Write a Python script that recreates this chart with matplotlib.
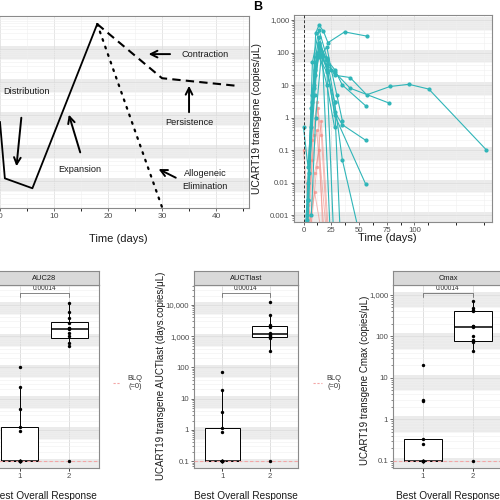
import numpy as np
import matplotlib
matplotlib.use("Agg")
import matplotlib.pyplot as plt
from matplotlib.lines import Line2D
from matplotlib.ticker import FixedLocator, FuncFormatter, LogLocator, NullFormatter, NullLocator

plt.rcParams["font.family"] = ["Liberation Sans", "DejaVu Sans"]

# ---------------------------------------------------------------------------
# Data
# ---------------------------------------------------------------------------

# Panel A: schematic cellular kinetics (arbitrary log units)
a_solid_t = [0, 0.9, 6, 18]
a_solid_v = [61, 1.2, 0.6, 57000]
a_dash_t = [18, 30, 44]
a_dash_v = [57000, 1300, 760]
a_dot_t = [18, 30]
a_dot_v = [57000, 0.16]

a_labels = ["Distribution", "Expansion", "Contraction", "Persistence", "Allogeneic\nElimination"]
a_text_xy = [(5.0, 500), (14.8, 2.3), (38, 6600), (35, 61), (38, 1.07)]
a_arrow_from = [(4.0, 100), (15, 6.1), (32, 7000), (35, 100), (33, 1.15)]
a_arrow_to = [(3.0, 2.3), (12.6, 123), (27, 7000), (35, 930), (28.9, 2.5)]

# Panel B: UCART19 transgene per patient, responders (R) and non-responders (NR)
resp_days = [
    [4, 8, 11, 14, 18, 22, 37, 57],
    [3, 8, 14, 21, 28, 42, 57, 78, 95, 113, 165],
    [2, 7, 14, 21, 28, 42, 77],
    [3, 9, 14, 21, 28, 35, 56],
    [4, 10, 15, 21, 28, 35, 56],
    [4, 10, 14, 21, 28, 56],
    [3, 9, 13, 21, 28, 35, 50],
    [5, 10, 14, 21, 27],
    [3, 7, 12, 17, 24],
    [4, 8, 14, 21, 28, 33],
    [0, 4, 10, 14, 21, 28],
    [7, 11, 16, 21, 25, 30, 35],
]
resp_vals = [
    [0.0005, 3, 400, 700, 450, 200, 430, 320],
    [0.0005, 5, 150, 60, 20, 17, 5, 9, 10.5, 7.5, 0.1],
    [0.0005, 2, 90, 40, 25, 8, 2.8],
    [0.001, 8, 200, 60, 30, 10, 2.3],
    [0.003, 20, 120, 30, 1.5, 0.6, 0.2],
    [0.01, 50, 300, 40, 1.2, 0.009],
    [0.0007, 10, 80, 25, 3, 0.05, 0.0003],
    [0.02, 5, 200, 30, 0.0003],
    [0.0005, 0.5, 100, 80, 0.0003],
    [0.003, 50, 500, 70, 3, 0.0003],
    [0.5, 0.03, 30, 100, 10, 0.5],
    [0.001, 1, 80, 150, 30, 5, 0.8],
]
nonresp_days = [
    [4, 8, 12, 16, 21],
    [5, 9, 13, 17],
    [3, 8, 12, 18],
    [6, 10, 14, 20],
    [0, 4, 8],
    [7, 12, 16, 22],
    [5, 10, 15],
]
nonresp_vals = [
    [0.0005, 0.2, 3, 0.3, 0.0005],
    [0.0005, 0.3, 2, 0.0005],
    [0.0005, 0.05, 0.4, 0.0005],
    [0.0005, 0.02, 0.1, 0.0005],
    [0.1, 0.002, 0.0005],
    [0.0005, 0.03, 0.8, 0.0005],
    [0.0005, 0.005, 0.0005],
]

# Bottom row: exposure metrics by best overall response (BLQ plotted at 0.1)
groups = ["NR\n(n=13)", "R\n(n=12)"]
auc28_nr = [0.1] * 8 + [0.93, 1.25, 4.7, 24, 100]
auc28_r = [0.1, 470, 590, 1000, 1250, 1700, 1800, 1900, 2600, 3800, 5900, 12000]
auctlast_nr = [0.1] * 8 + [0.86, 1.16, 3.8, 19.5, 69]
auctlast_r = [0.1, 330, 850, 950, 1000, 1100, 1200, 1300, 2000, 2300, 4700, 12500]
cmax_nr = [0.1] * 8 + [0.26, 0.33, 2.8, 2.9, 20]
cmax_r = [0.1, 45, 75, 80, 100, 165, 175, 180, 400, 430, 480, 700]
p_value = "0.00014"

TEAL = "#2FB5B8"
SALMON = "#F08C84"
BAND = "#EBEBEB"
GRAY_TXT = "#4D4D4D"

# ---------------------------------------------------------------------------
# Helpers
# ---------------------------------------------------------------------------

fig = plt.figure(figsize=(5, 5), dpi=100)


def add_px_axes(left, top, right, bottom):
    return fig.add_axes([left / 500, 1 - bottom / 500, (right - left) / 500, (bottom - top) / 500])


def log_fmt(v, _):
    return f"{v:,.0f}" if v >= 1 else f"{v:g}"


def style_log_panel(ax, kmin, kmax):
    ax.set_yscale("log")
    for k in range(kmin, kmax + 1):
        ax.axhspan(10 ** (k - 0.3), 10 ** (k + 0.08), color=BAND, lw=0, zorder=0)
    ax.yaxis.set_major_locator(LogLocator(base=10, numticks=20))
    ax.yaxis.set_minor_locator(LogLocator(base=10, subs=np.arange(2, 10), numticks=20))
    ax.yaxis.set_major_formatter(FuncFormatter(log_fmt))
    ax.yaxis.set_minor_formatter(NullFormatter())
    ax.grid(True, which="major", color="#DCDCDC", lw=0.5)
    ax.grid(True, which="minor", color="#F0F0F0", lw=0.4)
    ax.set_axisbelow(True)
    for s in ax.spines.values():
        s.set_color("#8A8A8A")
        s.set_linewidth(0.8)
    ax.tick_params(axis="both", which="major", labelsize=5.6, labelcolor=GRAY_TXT,
                   color="#333333", length=2.5, width=0.5, pad=1)
    ax.tick_params(axis="y", which="minor", color="#333333", length=1.5, width=0.4)


def log_box_stats(vals):
    lv = np.log10(vals)
    q1, med, q3 = np.percentile(lv, [25, 50, 75])
    iqr = q3 - q1
    lo = lv[lv >= q1 - 1.5 * iqr].min()
    hi = lv[lv <= q3 + 1.5 * iqr].max()
    return dict(med=10 ** med, q1=10 ** q1, q3=10 ** q3,
                whislo=10 ** lo, whishi=10 ** hi, fliers=[])


def response_panel(left, right, nr_vals, r_vals, title, ylim):
    ax = add_px_axes(left, 285, right, 468)
    style_log_panel(ax, -1, 4)
    ax.set_xlim(0.4, 2.6)
    ax.set_ylim(*ylim)
    ax.xaxis.set_major_locator(FixedLocator([1, 2]))
    ax.xaxis.set_minor_locator(NullLocator())
    ax.set_xticklabels(groups, linespacing=1.1)
    ax.axhline(0.1, color="#F4A6A6", ls=(0, (3, 2)), lw=0.8, zorder=3)
    ax.bxp([log_box_stats(nr_vals), log_box_stats(r_vals)], positions=[1, 2], widths=0.75,
           showfliers=False, showcaps=False, patch_artist=True,
           boxprops=dict(facecolor="white", edgecolor="black", lw=0.7),
           medianprops=dict(color="black", lw=1.1),
           whiskerprops=dict(color="black", lw=0.7))
    ax.scatter([1] * len(nr_vals), nr_vals, s=6, color="black", zorder=4, lw=0)
    ax.scatter([2] * len(r_vals), r_vals, s=6, color="black", zorder=4, lw=0)
    tr = ax.get_xaxis_transform()
    ax.plot([1, 1, 2, 2], [0.934, 0.956, 0.956, 0.934], transform=tr, color="#555555", lw=0.5)
    ax.text(1.5, 0.963, p_value, transform=tr, ha="center", va="bottom", fontsize=4.8, color="#333333")
    # facet strip
    strip = add_px_axes(left, 271, right, 285)
    strip.set_facecolor("#D9D9D9")
    strip.set_xticks([])
    strip.set_yticks([])
    for s in strip.spines.values():
        s.set_color("#8A8A8A")
        s.set_linewidth(0.8)
    strip.text(0.5, 0.5, title, ha="center", va="center", fontsize=5.4, color="#1A1A1A",
               transform=strip.transAxes)
    fig.text((left + right) / 2 / 500, 1 - 496 / 500, "Best Overall Response",
             ha="center", va="center", fontsize=7.3, color="#1A1A1A")
    return ax


# ---------------------------------------------------------------------------
# Panel A
# ---------------------------------------------------------------------------

axA = add_px_axes(-12, 16, 249, 208)
style_log_panel(axA, 0, 4)
axA.set_xlim(-2.22, 46.1)
axA.set_ylim(10 ** -0.82, 10 ** 5.0)
axA.xaxis.set_major_locator(FixedLocator([0, 10, 20, 30, 40]))
axA.xaxis.set_minor_locator(FixedLocator([5, 15, 25, 35, 45]))
axA.grid(True, axis="x", which="minor", color="#F0F0F0", lw=0.4)
axA.tick_params(axis="x", labelsize=6)
axA.tick_params(axis="y", which="both", labelleft=False, left=False)
axA.plot(a_solid_t, a_solid_v, color="black", lw=1.3)
axA.plot(a_dash_t, a_dash_v, color="black", lw=1.5, ls=(0, (4, 2.5)))
axA.plot(a_dot_t, a_dot_v, color="black", lw=1.6, ls=(0, (0.8, 2.8)), dash_capstyle="round")
for lab, txy, afrom, ato in zip(a_labels, a_text_xy, a_arrow_from, a_arrow_to):
    axA.text(txy[0], txy[1], lab, ha="center", va="center", fontsize=6.6, color="#1A1A1A",
             linespacing=1.5)
    axA.annotate("", xy=ato, xytext=afrom,
                 arrowprops=dict(arrowstyle="->", lw=1.4, color="black", mutation_scale=12))
fig.text(118 / 500, 1 - 239 / 500, "Time (days)", ha="center", va="center", fontsize=8,
         color="#1A1A1A")

# ---------------------------------------------------------------------------
# Panel B
# ---------------------------------------------------------------------------

axB = add_px_axes(294, 15, 492, 222)
style_log_panel(axB, -3, 3)
axB.set_xlim(-8.6, 170)
axB.set_ylim(10 ** -3.215, 10 ** 3.154)
axB.xaxis.set_major_locator(FixedLocator([0, 25, 50, 75, 100]))
axB.xaxis.set_minor_locator(FixedLocator([12.5, 37.5, 62.5, 87.5, 112.5, 137.5, 162.5]))
axB.grid(True, axis="x", which="minor", color="#F0F0F0", lw=0.4)
axB.axvline(0, color="#333333", lw=0.7, ls=(0, (3, 2)), zorder=3)
for d, v in zip(nonresp_days, nonresp_vals):
    axB.plot(d, v, color=SALMON, lw=0.7, alpha=0.6, marker="o", ms=1.5)
for d, v in zip(resp_days, resp_vals):
    axB.plot(d, v, color=TEAL, lw=0.8, marker="o", ms=2.0)
fig.text(257 / 500, 1 - 118 / 500, "UCART19 transgene (copies/\u03bcL)", rotation=90,
         ha="center", va="center", fontsize=7.5, color="#1A1A1A")
fig.text(387 / 500, 1 - 238 / 500, "Time (days)", ha="center", va="center", fontsize=8,
         color="#1A1A1A")
fig.text(253 / 500, 1 - 7 / 500, "B", ha="left", va="center", fontsize=9, fontweight="bold")

# ---------------------------------------------------------------------------
# Bottom row
# ---------------------------------------------------------------------------

ax_c1 = response_panel(-10, 99, auc28_nr, auc28_r, "AUC28", (10 ** -1.22, 10 ** 4.64))
ax_c1.tick_params(axis="y", which="both", labelleft=False, left=False)
response_panel(194, 298, auctlast_nr, auctlast_r, "AUCTlast", (10 ** -1.22, 10 ** 4.64))
response_panel(393, 503, cmax_nr, cmax_r, "Cmax", (10 ** -1.17, 10 ** 3.24))

fig.text(161 / 500, 1 - 376 / 500, "UCART19 transgene AUCTlast (days.copies/\u03bcL)", rotation=90,
         ha="center", va="center", fontsize=7, color="#1A1A1A")
fig.text(365 / 500, 1 - 380 / 500, "UCART19 transgene Cmax (copies/\u03bcL)", rotation=90,
         ha="center", va="center", fontsize=7, color="#1A1A1A")

# BLQ legends
for x1, x2, xt in [(113, 120, 135), (313, 322, 334)]:
    fig.add_artist(Line2D([x1 / 500, x2 / 500], [1 - 383 / 500] * 2, color="#F4A6A6",
                          lw=0.8, ls=(0, (2, 1.5))))
    fig.text(xt / 500, 1 - 383 / 500, "BLQ\n(=0)", ha="center", va="center", fontsize=5.4,
             color="#333333", linespacing=1.2)

fig.savefig("out.png", dpi=100)
